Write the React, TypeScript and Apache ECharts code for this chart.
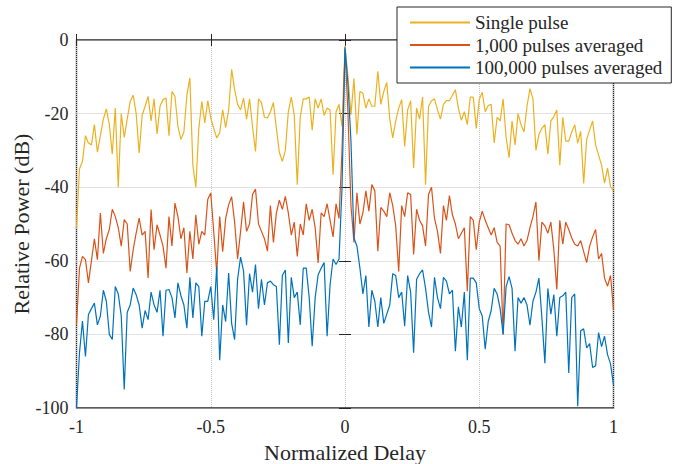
import React, { useEffect, useRef } from "react";
import * as echarts from "echarts";

// Delay axis: 181 evenly spaced samples from -1 to 1
const sampleCount = 181;
const delay: number[] = Array.from({ length: sampleCount }, (_, i) => -1 + (2 * i) / (sampleCount - 1));

const seriesNames = ["Single pulse", "1,000 pulses averaged", "100,000 pulses averaged"];
const seriesColors = ["#EDB120", "#D95319", "#0072BD"];

const singlePulse: number[] = [
  -51, -35, -33, -26, -28, -28.5, -23, -30.5, -26, -21.5, -18.7, -23, -31, -18.5, -40, -20, -26.5, -21.5, -16.7, -15,
  -20, -30.7, -20.5, -18, -15.3, -22, -16, -25.5, -18, -16.2, -15.8,
  -26, -14, -15.3, -23.5, -27, -25, -15, -10.3, -34, -40, -24, -16.7, -22.5, -16.5, -21.2, -24, -26.6, -25.2, -19, -23.8,
  -19, -8, -13.5, -17.5, -19, -15.8, -21.5, -16, -23.5, -30.3,
  -16, -17, -21, -21.2, -19.5, -17, -24, -30.5, -33, -30, -19.5, -15.5, -20.5, -39.3, -21, -16, -16, -15.5, -24.5, -16,
  -18.5, -16, -20.5, -18.5, -19, -36.6, -19.5, -17.5, -23.5, -1.5,
  -10, -20.3, -10.5, -25.7, -14, -14.5, -18.5, -16, -18, -18, -8.5, -17.5, -14, -11.5, -21.5, -26.6, -22, -18.5, -16.2, -28.9,
  -19, -16.5, -34.8, -18.5, -21.5, -15.5, -39.3, -18, -16.5, -16,
  -19, -21.5, -17.5, -16.5, -16.5, -15, -13.5, -18.5, -21.8, -19.5, -23, -15.5, -15.5, -24, -16.2, -14.2, -19.5, -17.8, -17.5, -28,
  -21, -22, -16, -26.5, -32, -22, -28.5, -20, -23, -25,
  -18, -13.2, -16, -30, -25.7, -24, -23, -31, -22, -20.8, -19, -34, -21, -27.5, -27.5, -25, -23, -28, -24.8, -39,
  -27, -24.5, -22, -28.5, -31.3, -34, -38.9, -34.8, -39.8, -41,
];

const thousandPulses: number[] = [
  -77.4, -62, -58.8, -59.7, -66, -60, -54, -59.7, -47, -58, -54, -51.5, -46, -48, -51, -56, -48.8, -50, -62.9, -57,
  -52.5, -48.4, -53, -52, -64.7, -46.1, -57, -50.2, -53, -56, -62,
  -48, -56, -44.3, -48, -54, -51, -63.3, -52, -59.5, -47.5, -55.5, -52, -53, -43.3, -41.6, -52, -63.3, -48, -57.5, -48.5,
  -44.8, -42.6, -49.5, -59.5, -52, -44, -52, -50, -42, -40.5,
  -50, -52, -54, -57.4, -45, -55, -47, -43.5, -46, -42.5, -47, -53, -49.5, -58.8, -50, -53, -44.5, -49, -46, -51,
  -60.6, -47, -48, -44.5, -49, -53.5, -44.5, -48.5, -30, -2.5,
  -20, -45, -55, -41.5, -50, -47, -41, -46.5, -39.3, -41, -57.4, -45.5, -46.5, -48, -41.5, -45, -50.5, -62.9, -45, -48,
  -41.5, -42, -58.3, -46, -49, -50.5, -56, -42, -40, -48.5,
  -52, -58, -45, -49, -42.3, -47.5, -50, -54, -52.5, -51, -68.3, -48, -49, -57, -49.5, -46.5, -49, -51, -53, -51,
  -55, -56, -80, -50, -50.2, -52.5, -54.5, -55.5, -54, -56,
  -54.5, -51, -48, -44, -60, -49.5, -50.5, -52.5, -49.5, -57, -67.8, -49, -55.5, -49.5, -51.5, -53.8, -55.5, -56, -54.5, -57.5,
  -60.5, -56, -53.5, -51.5, -59.5, -58, -64.7, -66.9, -64, -73.3,
];

const hundredThousandPulses: number[] = [
  -100, -85, -76.4, -86, -74.6, -73, -71.5, -77.4, -75, -68, -71, -80, -81.4, -67, -69, -75, -95, -74, -72, -67.4,
  -69.2, -72, -78.3, -73.5, -76, -68.5, -72, -74, -68, -80.5, -68,
  -67.8, -70, -75.5, -66, -69.5, -72, -78.3, -64.5, -75.5, -66, -67, -80.5, -71, -71, -67, -76, -61.5, -87, -72, -76.5,
  -63.3, -77, -81.4, -65, -59, -62.8, -77.5, -63.5, -68.5, -61,
  -73, -65, -72, -66, -65.5, -66.5, -67, -82.8, -64, -62.5, -82.3, -64.5, -70, -68.5, -77.4, -62, -62, -70, -83.2, -70,
  -63.8, -62, -60.5, -80.5, -66.5, -59.5, -61, -59.5, -40, -2,
  -12, -27.5, -53.8, -56, -62, -69, -64, -78, -68, -71, -78, -70, -77, -74.5, -72, -63.5, -64, -70, -68.5, -77.8,
  -64, -68.5, -85, -65, -63.5, -62.5, -67.5, -74, -78, -64.5,
  -70, -73, -64.5, -65.5, -69, -68, -84.6, -72.5, -78, -68.5, -87, -64.7, -64.7, -66, -73, -75, -84, -76.5, -73.5, -67.5,
  -69, -73, -80, -67, -64.3, -67.5, -84.6, -70, -71.5, -70,
  -72, -77.5, -71, -68.5, -64.7, -75.5, -87.8, -67.5, -74.5, -69.2, -80.5, -70, -69.5, -68.5, -90.5, -70, -69, -99.5, -79, -78.5,
  -83.7, -82.5, -89, -88.5, -79.5, -83.3, -80.5, -85.5, -88, -93.7,
];

const xTicks = { min: -1, max: 1, interval: 0.5 };
const yTicks = { min: -100, max: 0, interval: 20 };

const FONT = "'Liberation Serif', 'DejaVu Serif', serif";
const INK = "#262626";

export default function App() {
  const ref = useRef<HTMLDivElement>(null);

  useEffect(() => {
    document.body.style.margin = "0";
    if (!ref.current) return;
    const chart = echarts.init(ref.current, undefined, { renderer: "svg" });
    const allValues = [singlePulse, thousandPulses, hundredThousandPulses];
    const tickCommon = { inside: true, length: 6, lineStyle: { color: INK, width: 1 } };
    chart.setOption({
      animation: false,
      backgroundColor: "#ffffff",
      grid: {
        left: 76.5,
        right: 64.5,
        top: 40,
        bottom: 56,
        show: true,
        borderColor: INK,
        borderWidth: 1.3,
        backgroundColor: "transparent",
        containLabel: false,
        outerBoundsMode: "none",
      },
      xAxis: [
        {
          type: "value",
          ...xTicks,
          position: "bottom",
          axisLine: { show: false },
          axisTick: tickCommon,
          axisLabel: { margin: 10, fontSize: 18, fontFamily: FONT, color: INK },
          splitLine: { show: true, lineStyle: { type: "dotted", color: "#c4c4c4", width: 1 } },
          name: "Normalized Delay",
          nameLocation: "middle",
          nameGap: 33,
          nameMoveOverlap: false,
          nameTextStyle: { fontSize: 22, fontFamily: FONT, color: INK },
        },
        {
          type: "value",
          ...xTicks,
          position: "top",
          axisLine: { show: false },
          axisTick: tickCommon,
          axisLabel: { show: false },
          splitLine: { show: false },
        },
      ],
      yAxis: [
        {
          type: "value",
          ...yTicks,
          position: "left",
          axisLine: { show: false },
          axisTick: tickCommon,
          axisLabel: { margin: 8, fontSize: 18, fontFamily: FONT, color: INK },
          splitLine: { show: true, lineStyle: { type: "dotted", color: "#c4c4c4", width: 1 } },
          name: "Relative Power (dB)",
          nameLocation: "middle",
          nameGap: 44,
          nameMoveOverlap: false,
          nameTextStyle: { fontSize: 22, fontFamily: FONT, color: INK },
        },
        {
          type: "value",
          ...yTicks,
          position: "right",
          axisLine: { show: false },
          axisTick: tickCommon,
          axisLabel: { show: false },
          splitLine: { show: false },
        },
      ],
      legend: {
        orient: "vertical",
        left: 397,
        top: 7,
        padding: [6, 9, 6, 13],
        itemWidth: 60,
        itemHeight: 2,
        itemGap: 3.5,
        icon: "rect",
        backgroundColor: "#ffffff",
        borderColor: INK,
        borderWidth: 1,
        borderRadius: 0,
        textStyle: { fontSize: 19, fontFamily: FONT, color: INK },
        data: seriesNames,
      },
      series: seriesNames.map((name, k) => ({
        name,
        type: "line",
        xAxisIndex: 0,
        yAxisIndex: 0,
        symbol: "none",
        color: seriesColors[k],
        lineStyle: { color: seriesColors[k], width: 1.2 },
        data: allValues[k].map((v, i) => [delay[i], v]),
        z: 2 + k,
      })),
    });
    return () => chart.dispose();
  }, []);

  return (
    <div
      ref={ref}
      style={{ position: "absolute", left: 0, top: 0, width: 678, height: 464 }}
    />
  );
}
